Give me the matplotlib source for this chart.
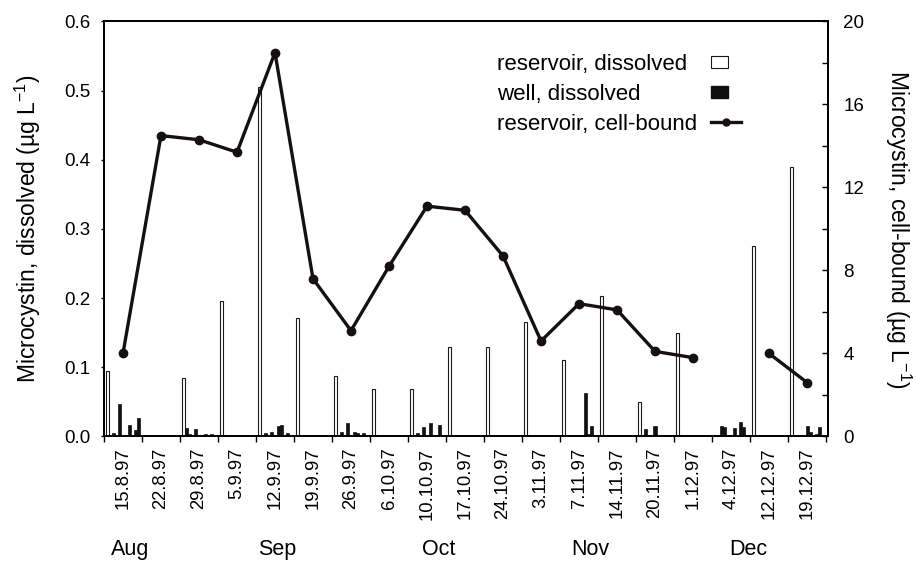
import numpy as np
import matplotlib
matplotlib.use('Agg')
import matplotlib.pyplot as plt
import matplotlib.patches as mpatches
from matplotlib.lines import Line2D
from matplotlib.legend_handler import HandlerPatch

plt.rcParams['font.family'] = ['Liberation Sans', 'DejaVu Sans']
plt.rcParams['mathtext.fontset'] = 'custom'
plt.rcParams['mathtext.rm'] = 'Liberation Sans'
plt.rcParams['mathtext.it'] = 'Liberation Sans:italic'

nan = np.nan

# sampling dates (one category each)
dates = ['15.8.97', '22.8.97', '29.8.97', '5.9.97', '12.9.97', '19.9.97',
         '26.9.97', '6.10.97', '10.10.97', '17.10.97', '24.10.97', '3.11.97',
         '7.11.97', '14.11.97', '20.11.97', '1.12.97', '4.12.97', '12.12.97',
         '19.12.97']
months = ['Aug', 'Sep', 'Oct', 'Nov', 'Dec']

# dissolved microcystin in the reservoir (ug/L), nan = not sampled
reservoir_dissolved = [0.094, nan, 0.084, 0.196, 0.505, 0.172, 0.088, 0.069,
                       0.068, 0.129, 0.130, 0.165, 0.110, 0.203, 0.050, 0.149,
                       nan, 0.276, 0.390]

# cell-bound microcystin in the reservoir (ug/L)
cell_bound = [4.0, 14.5, 14.3, 13.7, 18.5, 7.6, 5.1, 8.2, 11.1, 10.9, 8.7,
              4.6, 6.4, 6.1, 4.1, 3.8, nan, 4.0, 2.6]

# dissolved microcystin in wells 1-10 for each date (ug/L)
well_dissolved = [
    [0, 0.005, 0, 0.047, 0, 0, 0.017, 0, 0.009, 0.026],
    [0, 0, 0, 0, 0, 0, 0, 0, 0, 0],
    [0.012, 0.003, 0, 0.011, 0, 0, 0.004, 0, 0.004, 0],
    [0, 0, 0, 0, 0, 0, 0, 0, 0, 0],
    [0, 0.005, 0, 0.007, 0, 0.015, 0.017, 0, 0.005, 0],
    [0, 0, 0, 0, 0, 0, 0, 0, 0, 0],
    [0, 0.007, 0, 0.019, 0, 0.007, 0.005, 0, 0.005, 0],
    [0, 0, 0, 0, 0, 0, 0, 0, 0, 0],
    [0, 0.005, 0.0025, 0.0135, 0, 0.019, 0, 0, 0.017, 0],
    [0, 0, 0, 0, 0, 0, 0, 0, 0, 0],
    [0, 0.002, 0.002, 0.002, 0.002, 0, 0, 0, 0, 0],
    [0, 0, 0, 0, 0, 0, 0, 0, 0, 0],
    [0, 0, 0.002, 0, 0, 0, 0.063, 0.004, 0.015, 0],
    [0, 0, 0, 0, 0, 0, 0, 0, 0, 0],
    [0, 0.011, 0.0025, 0, 0.015, 0, 0, 0.0025, 0, 0],
    [0, 0, 0, 0, 0, 0, 0, 0, 0, 0],
    [0, 0.0155, 0.0135, 0, 0, 0.012, 0, 0.0205, 0.0135, 0],
    [0, 0, 0, 0, 0, 0, 0, 0, 0, 0],
    [0, 0, 0, 0, 0.0145, 0.007, 0, 0.004, 0.013, 0],
]

# bar layout: reservoir + 10 wells share one group per date
n_slots = 11
group_width = 0.9
slot_w = group_width / n_slots
month_pos = [0.7, 4.55, 8.8, 12.8, 16.95]
idx = np.arange(len(dates))


def slot_x(k):
    return idx + (1 - group_width) / 2 + (k + 0.5) * slot_w


def small_box(legend, orig_handle, xdescent, ydescent, width, height, fontsize):
    w = 0.59 * width
    h = 0.78 * height
    return mpatches.Rectangle((-xdescent, -ydescent + (height - h) / 2), w, h)


fig = plt.figure(figsize=(9.16, 5.67), dpi=100)
ax = fig.add_axes([0.1135, 0.2302, 0.7904, 0.7319])

res = np.array(reservoir_dissolved)
ok = ~np.isnan(res)
ax.bar(slot_x(0)[ok], res[ok], width=slot_w, color='white',
       edgecolor='#1a1a1a', linewidth=0.8, zorder=2)

wells = np.array(well_dissolved)
for k in range(wells.shape[1]):
    h = wells[:, k]
    ok = h > 0
    ax.bar(slot_x(k + 1)[ok], h[ok], width=slot_w, color='#111111',
           edgecolor='#111111', linewidth=0.5, zorder=2)

ax.set_xlim(0, 19.05)
ax.set_ylim(0, 0.6)
ax.set_yticks(np.arange(0, 0.61, 0.1))
ax.yaxis.set_major_formatter('{x:.1f}')
ax.set_xticks(np.arange(len(dates) + 1))
ax.set_xticklabels([])
ax.set_xticks(idx + 0.5, minor=True)
ax.set_xticklabels(dates, minor=True, rotation=90, fontsize=13.3)
ax.tick_params(axis='x', which='major', direction='out', length=4, width=1)
ax.tick_params(axis='x', which='minor', length=0, pad=8)
ax.tick_params(axis='y', direction='out', length=2.5, width=1, labelsize=13.5, pad=7.5)
for s in ax.spines.values():
    s.set_linewidth(1.3)

for name, xm in zip(months, month_pos):
    ax.text(xm, -0.273, name, transform=ax.get_xaxis_transform(),
            ha='center', va='center', fontsize=15.5)

ax2 = ax.twinx()
ax2.plot(idx + 0.5, cell_bound, color='#161010', lw=2.4, marker='o', ms=6,
         zorder=3)
ax2.set_ylim(0, 20)
ax2.set_yticks(range(0, 21, 4))
ax2.set_yticks(range(2, 21, 4), minor=True)
ax2.tick_params(axis='y', which='both', direction='in', length=4, width=1,
                labelsize=13.5, pad=11)
for s in ax2.spines.values():
    s.set_linewidth(1.3)

fig.text(0.0306, 0.596, 'Microcystin, dissolved (µg L$^{-1}$)', rotation=90,
         ha='center', va='center', fontsize=16.5)
fig.text(0.981, 0.596, 'Microcystin, cell-bound (µg L$^{-1}$)', rotation=270,
         ha='center', va='center', fontsize=16.5)

# legend: left-aligned labels in one block, symbols in a column to the right
labels = ['reservoir, dissolved', 'well, dissolved', 'reservoir, cell-bound']
handles = [mpatches.Patch(facecolor='white', edgecolor='#1a1a1a', lw=0.8),
           mpatches.Patch(facecolor='#111111', edgecolor='#111111'),
           Line2D([], [], color='#161010', lw=2.4, marker='o', ms=5)]
blank = [Line2D([], [], linestyle='none') for _ in labels]
leg_opts = dict(loc='upper left', frameon=False, borderpad=0, borderaxespad=0,
                labelspacing=0.4, fontsize=16)

text_leg = ax2.legend(blank, labels, bbox_to_anchor=(0.543, 0.922),
                      handlelength=0, handletextpad=0, **leg_opts)
ax2.add_artist(text_leg)
ax2.legend(handles, [' '] * len(labels), bbox_to_anchor=(0.838, 0.922),
           handlelength=1.35, handletextpad=0,
           handler_map={mpatches.Patch: HandlerPatch(patch_func=small_box)},
           **leg_opts)

fig.savefig('out.png', dpi=100)
